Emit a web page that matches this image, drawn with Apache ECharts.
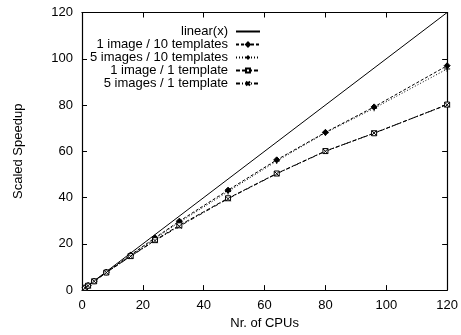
<!DOCTYPE html>
<html>
<head>
<meta charset="utf-8">
<script src="https://cdn.jsdelivr.net/npm/echarts@6/dist/echarts.min.js"></script>
<style>
  html, body { margin: 0; padding: 0; background: #fff; }
  #chart { width: 461px; height: 335px; }
</style>
</head>
<body>
<div id="chart"></div>
<script>
// CPU counts
const cpus = [1, 2, 4, 8, 16, 24, 32, 48, 64, 80, 96, 120];
const linearX = [0, 120];

// scaled speedup per configuration
const oneImgTenTpl = [1, 2, 3.9, 7.8, 15.2, 22.6, 29.8, 43.2, 56.3, 68.2, 79.2, 97];
const fiveImgTenTpl = [1, 2, 3.9, 7.7, 15, 22.3, 29.3, 42.6, 55.8, 68, 78.6, 95.6];
const oneImgOneTpl = [1, 1.9, 3.8, 7.6, 14.7, 21.6, 28, 39.7, 50.4, 60.1, 67.8, 80.2];
const fiveImgOneTpl = [1, 1.9, 3.8, 7.6, 14.6, 21.4, 27.6, 39.5, 50.3, 60, 67.9, 80.1];

const yTicks = [0, 20, 40, 60, 80, 100, 120];
const xTicks = [0, 20, 40, 60, 80, 100, 120];

const FONT = '"Liberation Sans", Arial, Helvetica, sans-serif';
const plusPath = 'path://M5 0 L5 10 M0 5 L10 5';
const crossPath = 'path://M0 0 L10 10 M10 0 L0 10';

const pairs = (xs, ys) => xs.map((x, i) => [x, ys[i]]);

const chart = echarts.init(document.getElementById('chart'));

const axisCommon = {
  type: 'value',
  min: 0,
  max: 120,
  interval: 20,
  axisLine: { show: true, onZero: false, lineStyle: { color: '#000', width: 1.2 } },
  axisTick: { show: true, inside: true, length: 5, lineStyle: { color: '#000' } },
  splitLine: { show: false },
};

const lineSeries = (name, data, dash, symbol, symbolSize, fill) => ({
  name,
  type: 'line',
  data: pairs(cpus, data),
  symbol,
  symbolSize,
  showAllSymbol: true,
  lineStyle: { color: '#000', width: 1, type: dash },
  itemStyle: { color: fill, borderColor: '#000', borderWidth: 1 },
  animation: false,
});

const option = {
  backgroundColor: '#fff',
  textStyle: { fontFamily: FONT },
  grid: { left: 82, right: 11, top: 12.5, bottom: 38 },
  legend: {
    orient: 'vertical',
    right: 195,
    top: 20,
    align: 'right',
    itemWidth: 24,
    itemHeight: 5,
    itemGap: 0,
    textStyle: { fontFamily: FONT, fontSize: 13, lineHeight: 11, color: '#000', padding: [0, 3, 0, 0] },
    data: [
      { name: 'linear(x)', itemStyle: { opacity: 0 } },
      '1 image / 10 templates',
      '5 images / 10 templates',
      '1 image / 1 template',
      '5 images / 1 template',
    ],
  },
  xAxis: [
    {
      ...axisCommon,
      position: 'bottom',
      name: 'Nr. of CPUs',
      nameLocation: 'middle',
      nameGap: 25,
      nameTextStyle: { fontFamily: FONT, fontSize: 13, color: '#000' },
      axisLabel: {
        color: '#000', fontSize: 13, fontFamily: FONT, margin: 9,
        formatter: v => (xTicks.includes(v) ? String(v) : ''),
      },
    },
    { ...axisCommon, position: 'top', axisLabel: { show: false } },
  ],
  yAxis: [
    {
      ...axisCommon,
      position: 'left',
      name: 'Scaled Speedup',
      nameLocation: 'middle',
      nameGap: 57,
      nameTextStyle: { fontFamily: FONT, fontSize: 13, color: '#000' },
      axisLabel: {
        color: '#000', fontSize: 13, fontFamily: FONT, margin: 9,
        formatter: v => (yTicks.includes(v) ? String(v) : ''),
      },
    },
    { ...axisCommon, position: 'right', axisLabel: { show: false } },
  ],
  series: [
    {
      name: 'linear(x)',
      type: 'line',
      data: pairs(linearX, linearX),
      symbol: 'none',
      lineStyle: { color: '#000', width: 1 },
      itemStyle: { color: '#000' },
      animation: false,
    },
    lineSeries('1 image / 10 templates', oneImgTenTpl, [3, 2], 'diamond', 6, '#000'),
    lineSeries('5 images / 10 templates', fiveImgTenTpl, [1, 2], plusPath, 6, '#000'),
    lineSeries('1 image / 1 template', oneImgOneTpl, [4, 2], 'rect', 5, '#fff'),
    lineSeries('5 images / 1 template', fiveImgOneTpl, [4, 2, 1, 2], crossPath, 5, '#000'),
  ],
};

chart.setOption(option);
</script>
</body>
</html>
